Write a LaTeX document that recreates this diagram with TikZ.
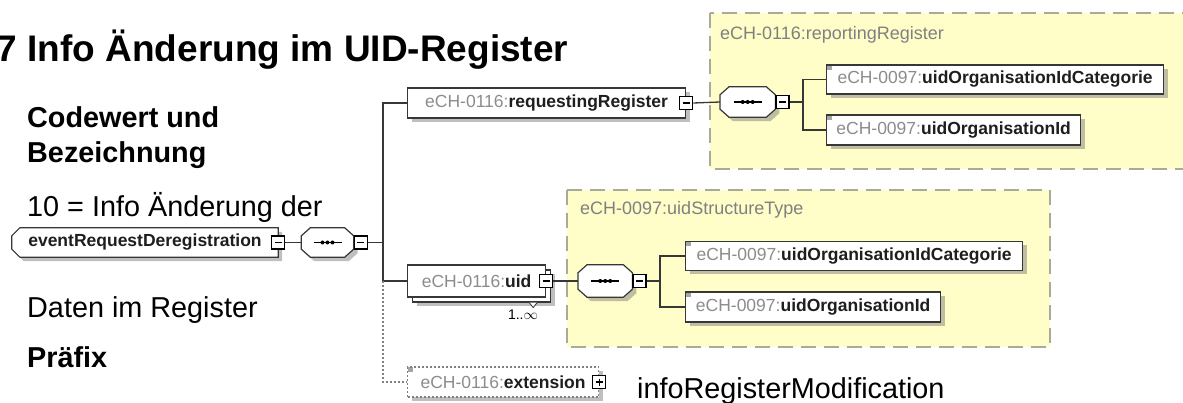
\documentclass[tikz,border=0pt]{standalone}
\usepackage{fontspec}
\setmainfont{Liberation Sans}
\usetikzlibrary{shadows}

\definecolor{prefixgray}{RGB}{140,140,140}
\definecolor{namedark}{RGB}{30,30,30}
\definecolor{boxline}{RGB}{55,55,55}
\definecolor{typefill}{RGB}{255,253,200}
\definecolor{typeline}{RGB}{170,170,155}

\pgfdeclarelayer{bg}
\pgfsetlayers{bg,main}

\newcommand{\qname}[2]{\textcolor{prefixgray}{#1:}\textbf{\textcolor{namedark}{#2}}}

\begin{document}
\begin{tikzpicture}[
          x=1pt, y=-1pt,
          bodytxt/.style = {anchor=base west, inner sep=0pt, font=\fontsize{28.8}{34}\selectfont},
          typebox/.style = {fill=typefill, draw=typeline, line width=1.5pt, dash pattern=on 15pt off 8pt},
          typelabel/.style = {anchor=base west, inner sep=0pt, text=black!50, font=\fontsize{18}{20}\selectfont},
          shade-off/.style = {drop shadow={shadow xshift=4pt, shadow yshift=-4pt, fill=black!50, opacity=.5}},
          elmbase/.style = {draw=boxline, fill=white, line width=1.2pt, minimum height=30pt, inner sep=0pt,
                            font=\fontsize{17.5}{20}\selectfont},
          elm/.style = {elmbase, shade-off},
          multi/.style = {elmbase, drop shadow={shadow xshift=9pt, shadow yshift=-9pt, fill=black!50, opacity=.5},
                          copy shadow={shadow xshift=5pt, shadow yshift=-5pt}},
          simple/.style = {elm, path picture={\fill[gray!70] (path picture bounding box.north west) rectangle ++(5pt,-5pt);}},
          ext/.style = {simple, draw=gray, dash pattern=on 2pt off 2pt},
          outline/.style = {minimum height=30pt, inner sep=0pt, font=\fontsize{17.5}{20}\selectfont},
          octo/.style = {draw=boxline, fill=white, line width=1.2pt, shade-off},
          collapse/.style = {draw=black, fill=white, line width=1.2pt, minimum size=13pt, inner sep=0pt,
                             path picture={\draw[line width=1.2pt] ([xshift=3pt]path picture bounding box.west) -- ([xshift=-3pt]path picture bounding box.east);}},
          expand/.style = {collapse,
                           path picture={\draw[line width=1.2pt] ([xshift=3pt]path picture bounding box.west) -- ([xshift=-3pt]path picture bounding box.east);
                                         \draw[line width=1.2pt] ([yshift=-3pt]path picture bounding box.north) -- ([yshift=3pt]path picture bounding box.south);}},
          conn/.style = {draw=boxline, line width=1.3pt}
        ]
          \useasboundingbox (0,0) rectangle (1183,403);

          \begin{pgfonlayer}{bg}
            \draw[typebox] (710,13) rectangle (1200,169);
            \draw[typebox] (567,190) rectangle (1050,347);
          \end{pgfonlayer}
          \node[typelabel] (replabel) at (720,40) {eCH-0116:reportingRegister};
          \node[typelabel] (structlabel) at (580,215) {eCH-0097:uidStructureType};

          \node[anchor=base west, inner sep=0pt, font=\fontsize{37}{44}\selectfont\bfseries] (title) at (-3.5,62) {7 Info Änderung im UID-Register};
          \node[bodytxt, font=\fontsize{28.8}{34}\selectfont\bfseries] (code) at (27,128) {Codewert und};
          \node[bodytxt, font=\fontsize{28.8}{34}\selectfont\bfseries] (desc) at (27,163) {Bezeichnung};
          \node[bodytxt] (value) at (27,217) {10 = Info Änderung der};
          \node[bodytxt] (data) at (27,317) {Daten im Register};
          \node[bodytxt, font=\fontsize{28.8}{34}\selectfont\bfseries] (prefix) at (27,367) {Präfix};
          \node[bodytxt] (typename) at (637,398) {infoRegisterModification};

          \node[outline, minimum width=266pt, minimum height=29pt] (event) at (145,242.5) {\textbf{\textcolor{namedark}{eventRequestDeregistration}}};
          \node[outline, minimum width=52pt, minimum height=29pt] (seq0) at (327.5,242.5) {};
          \coordinate (bus0) at (383,242.5);

          \node[elm, minimum width=278pt, anchor=west] (reqreg) at (407,103) {\qname{eCH-0116}{requestingRegister}};
          \node[outline, minimum width=55pt, anchor=west] (seq1) at (720,102) {};
          \coordinate (bus1) at (803,102);
          \node[simple, minimum width=337pt, minimum height=29pt, anchor=west] (cat1) at (826,79.5) {\qname{eCH-0097}{uidOrganisationIdCategorie}};
          \node[simple, minimum width=254pt, anchor=west] (id1) at (826,130) {\qname{eCH-0097}{uidOrganisationId}};

          \node[multi, minimum width=138pt, minimum height=32pt, anchor=west] (uid) at (407,281) {\qname{eCH-0116}{uid}};
          \draw[boxline, fill=white, line width=0.8pt] ([shift={(-17pt,-5pt)}]uid.south east) -- ++(4pt,-5pt) -- ++(4pt,5pt);
          \node[anchor=north, inner sep=0pt, font=\fontsize{14}{16}\selectfont] (uid-occ) at (523,310) {1..$\infty$};
          \node[outline, minimum width=54pt, minimum height=32pt, anchor=west] (seq2) at (578,281) {};
          \coordinate (bus2) at (660,281);
          \node[simple, minimum width=337pt, minimum height=29pt, anchor=west] (cat2) at (685,256) {\qname{eCH-0097}{uidOrganisationIdCategorie}};
          \node[simple, minimum width=255pt, anchor=west] (id2) at (685,307) {\qname{eCH-0097}{uidOrganisationId}};

          \node[ext, minimum width=191pt, anchor=west] (extension) at (407,382) {\qname{eCH-0116}{extension}};

          \begin{pgfonlayer}{bg}
            \draw[octo] ([xshift=8pt]event.north west) -- (event.north east) -- (event.south east)
              -- ([xshift=8pt]event.south west) -- ([yshift=8pt]event.south west) -- ([yshift=-8pt]event.north west) -- cycle;
            \foreach \s in {seq0,seq1,seq2}
              \draw[octo] ([xshift=9pt]\s.north west) -- ([xshift=-9pt]\s.north east) -- ([yshift=-8pt]\s.north east)
                -- ([yshift=8pt]\s.south east) -- ([xshift=-9pt]\s.south east) -- ([xshift=9pt]\s.south west)
                -- ([yshift=8pt]\s.south west) -- ([yshift=-8pt]\s.north west) -- cycle;
          \end{pgfonlayer}
          \foreach \s in {seq0,seq1,seq2} {
            \draw[line width=1.3pt] ([xshift=-14pt]\s.center) -- ([xshift=14pt]\s.center);
            \foreach \d in {-5,0,5} \fill ([xshift=\d pt]\s.center) circle (2pt);
          }

          \node[collapse] (event-m) at (event.east) {};
          \node[collapse, anchor=west] (seq0-m) at (seq0.east) {};
          \node[collapse] (reqreg-m) at (reqreg.east) {};
          \node[collapse, anchor=west] (seq1-m) at (seq1.east) {};
          \node[collapse] (uid-m) at (uid.east) {};
          \node[collapse, anchor=west] (seq2-m) at (seq2.east) {};
          \node[expand] (extension-p) at (extension.east) {};

          \draw[conn] (event-m.east) -- (seq0.west);
          \draw[conn] (seq0-m.east) -- (bus0);
          \draw[conn] (reqreg.west) -| (bus0) |- (uid.west);
          \draw[conn, draw=gray, dash pattern=on 2pt off 2pt] (bus0 |- uid.west) |- (extension.west);

          \draw[conn] (reqreg-m.east) -- (seq1.west);
          \draw[conn] (seq1-m.east) -- (bus1);
          \draw[conn] (cat1.west) -| (bus1) |- (id1.west);

          \draw[conn] (uid-m.east) -- (seq2.west);
          \draw[conn] (seq2-m.east) -- (bus2);
          \draw[conn] (cat2.west) -| (bus2) |- (id2.west);
        \end{tikzpicture}
\end{document}
